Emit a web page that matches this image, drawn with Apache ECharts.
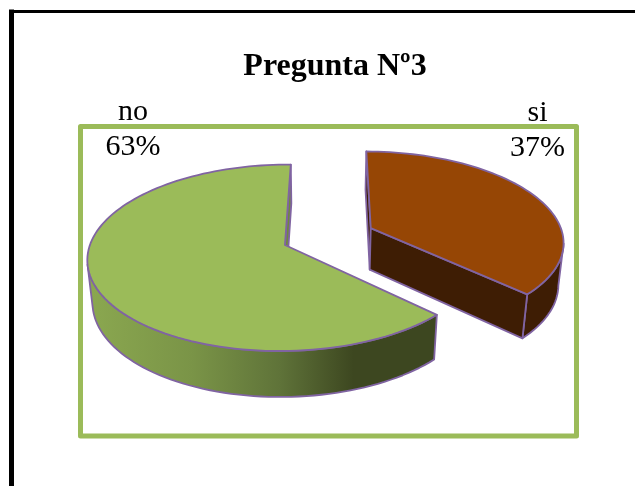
<!DOCTYPE html>
<html>
<head>
<meta charset="utf-8">
<style>html,body{margin:0;padding:0;background:#fff}#chart{width:635px;height:486px}</style>
<script src="https://cdn.jsdelivr.net/npm/echarts@6/dist/echarts.min.js"></script>
</head>
<body>
<div id="chart"></div>
<script>
// Survey answers, in clockwise drawing order
const categories = ['si', 'no'];
const shares = [37, 63];
const percentLabels = ['37%', '63%'];
const chartTitle = 'Pregunta Nº3';

// Perspective camera for the tilted pie
const VANISH_X = 321, ORIGIN_Y = 245;
const RADIUS_X = 195, RADIUS_Y = 91.5, TILT = -0.137;
const CENTER_SHIFT = -0.185;      // disc centre relative to the vanishing column
const DEPTH = 43, DEPTH_W = 0.022;
const START_DEG = 0.5, EXPLODE = 0.485;
const RIGHT_EDGE_DEG = 100, LEFT_EDGE_DEG = 258;  // where each disc's outline turns away
const LINE = '#8064a2';
const TOP_COLORS = { si: '#964605', no: '#9bbb59' };
const WALL_COLORS = { si: '#3e1d04', no: null };
const CUT_COLORS = { si: '#3e1d04', no: '#6f8740' };

function project(u, v, lower) {
  const w = 1 + TILT * v + (lower ? DEPTH_W : 0);
  return [
    VANISH_X + RADIUS_X * (u + CENTER_SHIFT) / w,
    ORIGIN_Y + (RADIUS_Y * v + (lower ? DEPTH : 0)) / w
  ];
}

function rim(a0, a1, ox, oy, lower) {
  const pts = [];
  const n = Math.max(2, Math.ceil(Math.abs(a1 - a0) / 2));
  for (let i = 0; i <= n; i++) {
    const t = (a0 + (a1 - a0) * i / n) * Math.PI / 180;
    pts.push(project(ox + Math.sin(t), oy - Math.cos(t), lower));
  }
  return pts;
}

function poly(points, fill, z2) {
  return {
    type: 'polygon', z2: z2,
    shape: { points: points },
    style: { fill: fill, stroke: LINE, lineWidth: 1.8, lineJoin: 'round' }
  };
}

const wallGradient = new echarts.graphic.LinearGradient(0, 0, 1, 0, [
  { offset: 0, color: '#8ba850' },
  { offset: 0.3, color: '#7a9447' },
  { offset: 0.55, color: '#5f7339' },
  { offset: 0.76, color: '#3d4720' },
  { offset: 1, color: '#3d4720' }
]);

const total = shares.reduce((a, b) => a + b, 0);

function renderSlice(params, api) {
  const name = categories[api.value(0)];
  const value = api.value(1);
  let before = 0;
  for (let i = 0; i < api.value(0); i++) before += shares[i];
  const a0 = START_DEG + before / total * 360;
  const a1 = a0 + value / total * 360;
  const exploded = name === 'si';
  const mid = (a0 + a1) / 2 * Math.PI / 180;
  const ox = exploded ? EXPLODE * Math.sin(mid) : 0;
  const oy = exploded ? -EXPLODE * Math.cos(mid) : 0;

  const topRim = rim(a0, a1, ox, oy, false);
  const apex = project(ox, oy, false);
  const apexLow = project(ox, oy, true);
  const children = [];

  // face exposed by the cut at the slice's start angle
  const startAngle = exploded ? a0 : a1;
  const sT = startAngle * Math.PI / 180;
  const sU = ox + Math.sin(sT), sV = oy - Math.cos(sT);
  children.push(poly([project(sU, sV, false), project(sU, sV, true), apexLow, apex], CUT_COLORS[name], 1));

  if (exploded) {
    // outer wall and the straight face toward the viewer
    const wallArc = rim(RIGHT_EDGE_DEG, a1, ox, oy, false);
    const wallLow = rim(RIGHT_EDGE_DEG, a1, ox, oy, true);
    children.push(poly(wallArc.concat(wallLow.reverse()), WALL_COLORS.si, 2));
    const eT = a1 * Math.PI / 180;
    const eU = ox + Math.sin(eT), eV = oy - Math.cos(eT);
    children.push(poly([apex, project(eU, eV, false), project(eU, eV, true), apexLow], WALL_COLORS.si, 3));
  } else {
    // curved front wall, from the slice's end corner round to the far left
    const wallArc = rim(a0, LEFT_EDGE_DEG, ox, oy, false);
    const wallLow = rim(a0, LEFT_EDGE_DEG, ox, oy, true);
    children.push(poly(wallArc.concat(wallLow.reverse()), wallGradient, 2));
  }

  children.push(poly(topRim.concat([apex]), TOP_COLORS[name], 5));
  return { type: 'group', children: children };
}

const labelPlacement = { si: [537.5, 113, 148], no: [133, 112, 147] };
const labelGraphics = [];
categories.forEach((name, i) => {
  const p = labelPlacement[name];
  [[name, p[1]], [percentLabels[i], p[2]]].forEach(([text, y]) => {
    labelGraphics.push({
      type: 'text', x: p[0], y: y, z: 20,
      style: {
        text: text, fill: '#000', align: 'center', verticalAlign: 'middle',
        font: '30px "Liberation Serif", serif'
      }
    });
  });
});

const chart = echarts.init(document.getElementById('chart'), null, { renderer: 'canvas' });
chart.setOption({
  animation: false,
  backgroundColor: '#fff',
  title: {
    text: chartTitle, left: 330, top: 46, textAlign: 'center',
    textStyle: { fontFamily: '"Liberation Serif", serif', fontWeight: 'bold', fontSize: 32, color: '#000' }
  },
  graphic: [
    { type: 'line', z: 0, shape: { x1: 11.5, y1: 9.5, x2: 11.5, y2: 486 }, style: { stroke: '#000', lineWidth: 5 } },
    { type: 'line', z: 0, shape: { x1: 9, y1: 11.5, x2: 635, y2: 11.5 }, style: { stroke: '#000', lineWidth: 3 } },
    { type: 'rect', z: 0, shape: { x: 80.5, y: 126.5, width: 496, height: 309.5 },
      style: { fill: null, stroke: '#9bbb59', lineWidth: 5, lineJoin: 'round' } }
  ].concat(labelGraphics),
  series: [{
    type: 'custom',
    coordinateSystem: 'none',
    clip: false,
    renderItem: renderSlice,
    data: categories.map((c, i) => [i, shares[i]])
  }]
});
</script>
</body>
</html>
